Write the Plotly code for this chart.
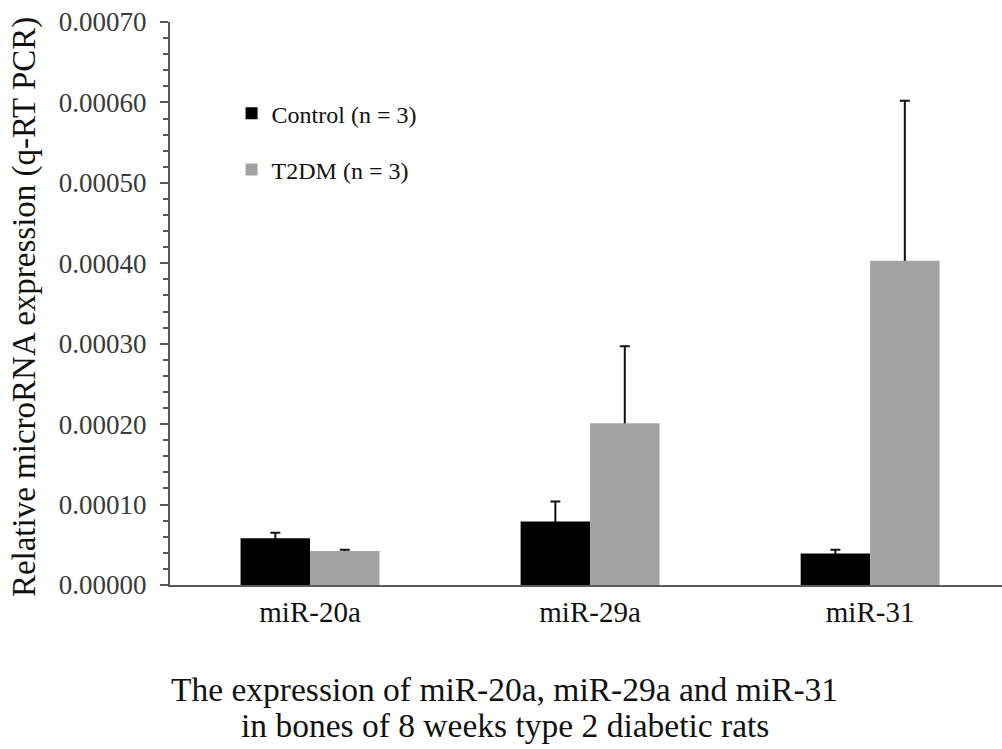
import plotly.graph_objects as go

# miRNA targets measured
categories = ["miR-20a", "miR-29a", "miR-31"]

# mean relative expression and SD for each group
control_mean = [0.0000580, 0.0000788, 0.0000393]
control_sd = [0.0000070, 0.0000250, 0.0000045]
t2dm_mean = [0.0000423, 0.0002012, 0.0004030]
t2dm_sd = [0.0000015, 0.0000958, 0.0001990]

y_ticks = [0.0, 0.0001, 0.0002, 0.0003, 0.0004, 0.0005, 0.0006, 0.0007]

SERIF = "Liberation Serif"
AXIS_GREY = "#595959"
BAR_W = 0.248

groups = [
    ("Control (n = 3)", control_mean, control_sd, "#000000", -BAR_W),
    ("T2DM (n = 3)", t2dm_mean, t2dm_sd, "#a2a2a2", 0.0),
]

fig = go.Figure()

# SD whiskers first (upper direction only); the solid bars drawn next hide
# the part of each whisker that runs inside the bar.
for name, mean, sd, color, offset in groups:
    fig.add_trace(go.Bar(
        x=categories, y=mean, width=BAR_W, offset=offset,
        marker=dict(color="rgba(0,0,0,0)", line=dict(width=0)),
        error_y=dict(type="data", array=sd, arrayminus=mean, symmetric=False,
                     color="#111111", thickness=2, width=5),
        showlegend=False, hoverinfo="skip",
    ))

for name, mean, sd, color, offset in groups:
    fig.add_trace(go.Bar(
        name=name, x=categories, y=mean, width=BAR_W, offset=offset,
        marker=dict(color=color, line=dict(width=0)),
        legendgroup=name,
    ))

fig.update_layout(
    width=1002,
    height=749,
    margin=dict(l=170, r=0, t=22, b=164, pad=0),
    paper_bgcolor="white",
    plot_bgcolor="white",
    barmode="overlay",
    font=dict(family=SERIF, color="#000000"),
    showlegend=True,
    legend=dict(
        x=0.074, y=0.877, xanchor="left", yanchor="top",
        bgcolor="rgba(0,0,0,0)",
        font=dict(family=SERIF, size=24, color="#111111"),
        traceorder="grouped",
        tracegroupgap=22,
        itemwidth=30,
    ),
    xaxis=dict(
        range=[-0.5, 2.471],
        showline=True, linecolor=AXIS_GREY, linewidth=2,
        ticks="", showgrid=False, zeroline=False,
        tickfont=dict(family=SERIF, size=29, color="#111111"),
        ticklabelstandoff=0,
    ),
    yaxis=dict(
        range=[0, 0.0007],
        tickvals=y_ticks,
        tickformat=".5f",
        showline=True, linecolor=AXIS_GREY, linewidth=2,
        ticks="outside", ticklen=8, tickwidth=2, tickcolor=AXIS_GREY,
        minor=dict(ticks="outside", ticklen=5, tickwidth=1.5, tickcolor=AXIS_GREY,
                   dtick=0.00002, showgrid=False),
        showgrid=False, zeroline=False,
        tickfont=dict(family=SERIF, size=27, color="#3a3a3a"),
        ticklabelstandoff=8,
    ),
    annotations=[
        dict(text="Relative microRNA expression (q-RT PCR)",
             xref="paper", yref="paper", x=-0.174, y=0.494,
             xanchor="center", yanchor="middle", textangle=-90, showarrow=False,
             font=dict(family=SERIF, size=33, color="#111111")),
        dict(text="The expression of miR-20a, miR-29a and miR-31",
             xref="paper", yref="paper", x=0.4026, y=-0.186,
             xanchor="center", yanchor="middle", showarrow=False,
             font=dict(family=SERIF, size=33.5, color="#111111")),
        dict(text="in bones of 8 weeks type 2 diabetic rats",
             xref="paper", yref="paper", x=0.4026, y=-0.249,
             xanchor="center", yanchor="middle", showarrow=False,
             font=dict(family=SERIF, size=33.5, color="#111111")),
    ],
)

fig.write_html("out.html")
